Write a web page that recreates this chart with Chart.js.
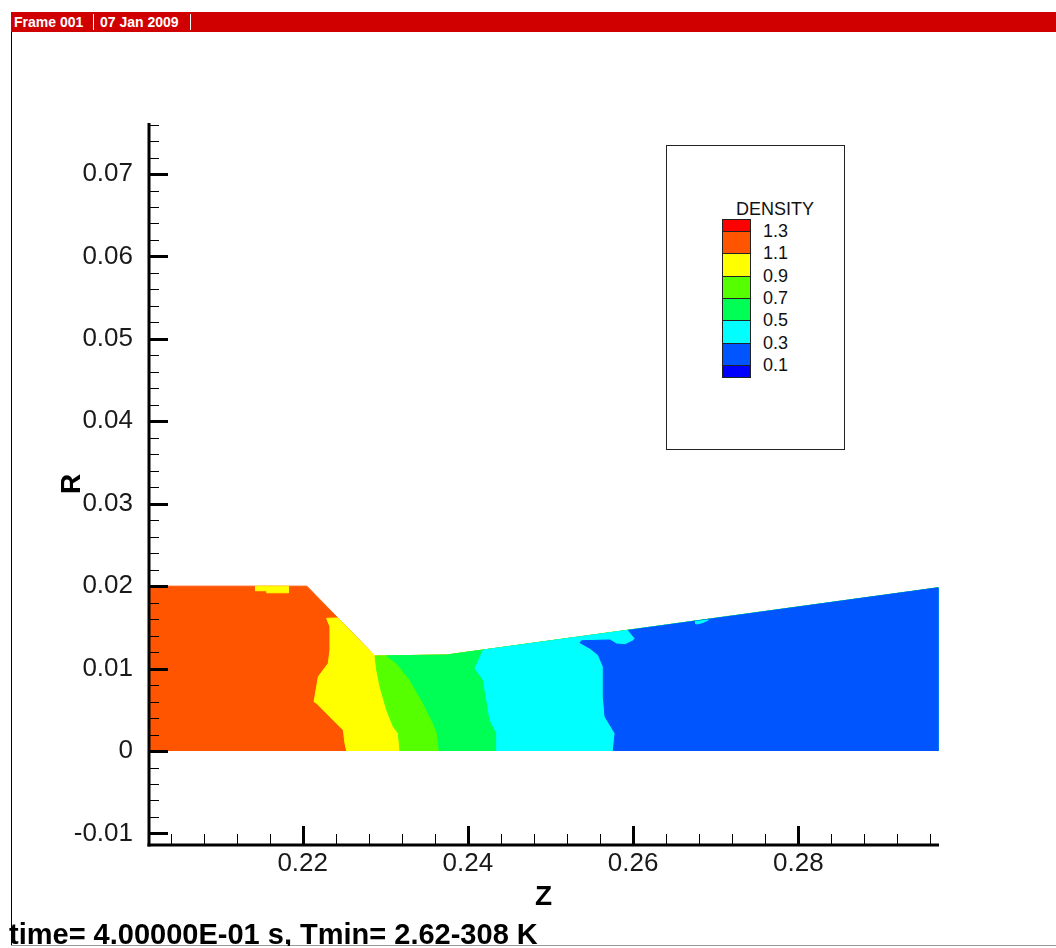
<!DOCTYPE html>
<html>
<head>
<meta charset="utf-8">
<title>DENSITY contour</title>
<script src="https://cdn.jsdelivr.net/npm/chart.js@4.4.0/dist/chart.umd.min.js"></script>
<style>
  body { margin: 0; background: #fff; font-family: "Liberation Sans", Arial, sans-serif; }
  #frame { position: relative; width: 1056px; height: 948px; overflow: hidden; background: #fff; }
  #plot { position: absolute; left: 0; top: 0; }
  .header { position: absolute; left: 11px; top: 12px; right: 0; height: 20px; background: #d00000; }
  .header span { position: absolute; top: 3px; color: #fff; font: bold 14px/14px "Liberation Sans", Arial, sans-serif; white-space: nowrap; }
  .header .sep { position: absolute; top: 2px; width: 1px; height: 16px; background: #fff; }
  .border-left { position: absolute; left: 11px; top: 32px; width: 1px; height: 914px; background: #000; }
  .border-bottom { position: absolute; left: 11px; right: 0; top: 945px; height: 1px; background: #999; }
  .footer { position: absolute; left: 9px; top: 920px; height: 26px; overflow: hidden; font: bold 29px/29px "Liberation Sans", Arial, sans-serif; color: #000; white-space: nowrap; }
  .legend { position: absolute; left: 666px; top: 145px; width: 179px; height: 305px; box-sizing: border-box; border: 1px solid #222; background: #fff; }
  .legend-title, .legend-label { position: absolute; font: 18px/18px "Liberation Sans", Arial, sans-serif; color: #111; white-space: nowrap; }
  .swatch { position: absolute; box-sizing: border-box; border: 1px solid #222; }
</style>
</head>
<body>
<div id="frame">
  <canvas id="plot" width="1056" height="948"></canvas>
  <div class="header">
    <span style="left:3px">Frame 001</span>
    <div class="sep" style="left:82px"></div>
    <span style="left:89px">07 Jan 2009</span>
    <div class="sep" style="left:179px"></div>
  </div>
  <div class="border-left"></div>
  <div class="border-bottom"></div>
  <div class="legend" id="legend"></div>
  <div class="footer">time= 4.00000E-01 s, Tmin= 2.62-308 K</div>
</div>
<script>
// legend levels (top to bottom) and band colours (top to bottom)
var densityLevels = ['1.3', '1.1', '0.9', '0.7', '0.5', '0.3', '0.1'];
var bandColors = ['#ff0000', '#ff5500', '#ffff00', '#55ff00', '#00ff55', '#00ffff', '#0055ff', '#0000ff'];

// axis ticks
var zTicks = [0.22, 0.24, 0.26, 0.28];
var zTickLabels = ['0.22', '0.24', '0.26', '0.28'];
var rTicks = [-0.01, 0, 0.01, 0.02, 0.03, 0.04, 0.05, 0.06, 0.07];
var rTickLabels = ['-0.01', '0', '0.01', '0.02', '0.03', '0.04', '0.05', '0.06', '0.07'];
var zMinorStep = 0.004;
var rMinorStep = 0.002;

// nozzle wall, [z, r]
var wall = [[0.2, 0.02], [0.2205, 0.02], [0.22875, 0.01153], [0.23743, 0.01165], [0.2969, 0.0198]];
var zEnd = 0.2969;

// contour edges, from the axis (r = 0) up to the wall, [z, r]
var edgeOrangeYellow = [[0.22533, 0], [0.22512, 0.00093], [0.22492, 0.00255], [0.22330, 0.00416], [0.22169, 0.00579],
  [0.22137, 0.00598], [0.22169, 0.00780], [0.22189, 0.00901], [0.22249, 0.00983], [0.22310, 0.01064],
  [0.22330, 0.01225], [0.22330, 0.01508], [0.22290, 0.01610], [0.22425, 0.01614]];
var edgeYellowLime = [[0.23178, 0], [0.23157, 0.00215], [0.23097, 0.00295], [0.23017, 0.00497], [0.22936, 0.00780],
  [0.22896, 0.00983], [0.22875, 0.01153]];
var edgeLimeGreen = [[0.23654, 0], [0.23629, 0.00215], [0.23581, 0.00336], [0.23460, 0.00579], [0.23299, 0.00861],
  [0.23138, 0.01064], [0.23017, 0.01155]];
var edgeGreenCyan = [[0.24348, 0], [0.24348, 0.00215], [0.24267, 0.00376], [0.24227, 0.00619], [0.24186, 0.00861],
  [0.24086, 0.01003], [0.24186, 0.01225]];
var edgeCyanBlue = [[0.25760, 0], [0.25781, 0.00215], [0.25660, 0.00416], [0.25639, 0.00659], [0.25639, 0.01023],
  [0.25579, 0.01165], [0.25478, 0.01246], [0.25357, 0.01314], [0.25377, 0.01338], [0.25720, 0.01347],
  [0.25801, 0.01298], [0.25902, 0.01290], [0.26002, 0.01338], [0.26023, 0.01367], [0.25942, 0.01464]];

// small islands
var yellowPatch = [[0.21422, 0.02], [0.21826, 0.02], [0.21826, 0.0192], [0.21564, 0.0192], [0.21564, 0.01945], [0.21422, 0.01945]];
var cyanPatch = [[0.26749, 0.0157], [0.26910, 0.0159], [0.26846, 0.01559], [0.26773, 0.01541], [0.26749, 0.01552]];

// region from an edge to the outlet
function regionFrom(edge) {
  var last = edge[edge.length - 1][0];
  var pts = edge.slice();
  wall.forEach(function(p) { if (p[0] > last) pts.push(p); });
  pts.push([zEnd, 0]);
  return pts;
}

var layers = [
  { color: bandColors[1], pts: [[0.2, 0]].concat(wall, [[zEnd, 0]]) },
  { color: bandColors[2], pts: yellowPatch },
  { color: bandColors[2], pts: regionFrom(edgeOrangeYellow) },
  { color: bandColors[3], pts: regionFrom(edgeYellowLime) },
  { color: bandColors[4], pts: regionFrom(edgeLimeGreen) },
  { color: bandColors[5], pts: regionFrom(edgeGreenCyan) },
  { color: bandColors[6], pts: regionFrom(edgeCyanBlue) },
  { color: bandColors[5], pts: cyanPatch }
];

// legend box
var legend = document.getElementById('legend');
var barLeft = 721 - 666, barTop = 218 - 145, barStep = 22.3;
function bandEdge(i) {
  if (i === 0) return barTop;
  if (i === bandColors.length) return barTop + 12 + (bandColors.length - 2) * barStep + 12;
  return barTop + 12 + (i - 1) * barStep;
}
var t = document.createElement('div');
t.className = 'legend-title';
t.style.left = (735 - 666) + 'px';
t.style.top = (199 - 145) + 'px';
t.textContent = 'DENSITY';
legend.appendChild(t);
bandColors.forEach(function(c, i) {
  var s = document.createElement('div');
  s.className = 'swatch';
  s.style.left = barLeft + 'px';
  s.style.width = '29px';
  s.style.top = Math.round(bandEdge(i)) + 'px';
  s.style.height = (Math.round(bandEdge(i + 1)) - Math.round(bandEdge(i)) + 1) + 'px';
  s.style.background = c;
  legend.appendChild(s);
});
densityLevels.forEach(function(lab, i) {
  var l = document.createElement('div');
  l.className = 'legend-label';
  l.style.left = (762 - 666) + 'px';
  l.style.top = Math.round(bandEdge(i + 1) - 9) + 'px';
  l.textContent = lab;
  legend.appendChild(l);
});

// inward Tecplot-style axes
var tecplotAxes = {
  id: 'tecplotAxes',
  afterDatasetsDraw: function(chart) {
    var ctx = chart.ctx, a = chart.chartArea, x = chart.scales.x, y = chart.scales.y;
    function seg(x1, y1, x2, y2, w) {
      ctx.lineWidth = w;
      ctx.beginPath();
      ctx.moveTo(x1, y1);
      ctx.lineTo(x2, y2);
      ctx.stroke();
    }
    ctx.save();
    ctx.strokeStyle = '#000';
    var k, px, py;
    for (k = Math.ceil(x.min / zMinorStep - 1e-9); k * zMinorStep <= x.max; k++) {
      if (k % 5 === 0) continue;
      px = Math.round(x.getPixelForValue(k * zMinorStep)) + 0.5;
      seg(px, a.bottom, px, a.bottom - 11, 1);
    }
    for (k = Math.ceil(y.min / rMinorStep - 1e-9); k * rMinorStep <= y.max; k++) {
      if (k % 5 === 0) continue;
      py = Math.round(y.getPixelForValue(k * rMinorStep)) + 0.5;
      seg(a.left, py, a.left + 11, py, 1);
    }
    zTicks.forEach(function(v) {
      px = Math.round(x.getPixelForValue(v)) + 0.5;
      seg(px, a.bottom, px, a.bottom - 19, 3);
    });
    rTicks.forEach(function(v) {
      py = Math.round(y.getPixelForValue(v)) + 0.5;
      seg(a.left, py, a.left + 20, py, 3);
    });
    seg(a.left + 1, a.top, a.left + 1, a.bottom + 1.5, 3);
    seg(a.left - 0.5, a.bottom, a.right, a.bottom, 3);
    ctx.restore();
  }
};

var fam = '"Liberation Sans", Arial, sans-serif';
var ctx = document.getElementById('plot').getContext('2d');
var chart = new Chart(ctx, {
  type: 'scatter',
  data: {
    datasets: layers.map(function(l, i) {
      return {
        data: l.pts.map(function(p) { return { x: p[0], y: p[1] }; }),
        showLine: true,
        fill: 'shape',
        tension: 0,
        pointRadius: 0,
        borderWidth: 1,
        borderColor: l.color,
        backgroundColor: l.color,
        order: layers.length - i
      };
    })
  },
  options: {
    responsive: false,
    animation: false,
    events: [],
    layout: { padding: { left: 0, top: 123, right: 117, bottom: 0 } },
    plugins: { legend: { display: false }, tooltip: { enabled: false } },
    scales: {
      x: {
        type: 'linear',
        min: 0.20127,
        max: 0.29703,
        grid: { display: false, drawTicks: false },
        border: { display: false },
        afterBuildTicks: function(s) { s.ticks = zTicks.map(function(v) { return { value: v }; }); },
        afterFit: function(s) { s.height = 103; },
        ticks: {
          autoSkip: false, maxRotation: 0, padding: 3, color: '#1a1a1a',
          font: { family: fam, size: 26 },
          callback: function(v, i) { return zTickLabels[i]; }
        },
        title: { display: true, text: 'Z', color: '#000', font: { family: fam, size: 28, weight: 'bold' }, padding: { top: 0, bottom: 34 } }
      },
      y: {
        type: 'linear',
        min: -0.0114,
        max: 0.07619,
        grid: { display: false, drawTicks: false },
        border: { display: false },
        afterBuildTicks: function(s) { s.ticks = rTicks.map(function(v) { return { value: v }; }); },
        afterFit: function(s) { s.width = 148; },
        ticks: {
          autoSkip: false, padding: 15, color: '#1a1a1a',
          font: { family: fam, size: 26 },
          callback: function(v, i) { return rTickLabels[i]; }
        },
        title: { display: true, text: 'R', color: '#000', font: { family: fam, size: 28, weight: 'bold' }, padding: { top: 55, bottom: 0 } }
      }
    }
  },
  plugins: [tecplotAxes]
});
</script>
</body>
</html>
